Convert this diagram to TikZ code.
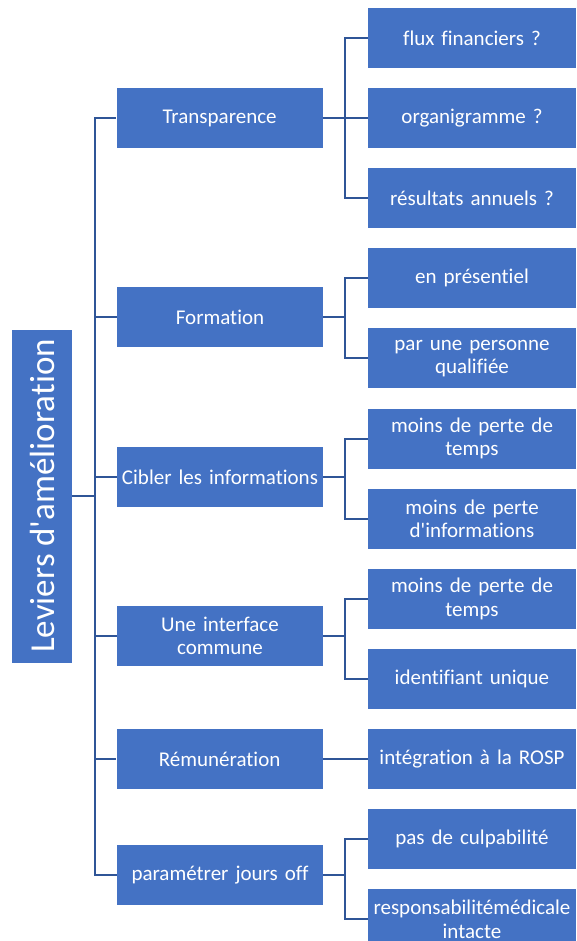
\documentclass[tikz,border=0pt]{standalone}
\usepackage{fontspec}
\setmainfont{Carlito}[Ligatures=NoCommon]
\usepackage{xcolor}
\usepackage{tikz}
\usetikzlibrary{calc}
\usetikzlibrary{positioning}

\definecolor{boxblue}{HTML}{4472C4}
\definecolor{lineblue}{HTML}{2F5597}

\begin{document}
\begin{tikzpicture}[x=1pt, y=1pt]

                \def\d{19.7pt}
                \def\g{45pt}

                % box looks, one style per level
                \tikzset{
                    lvbox/.style={fill=boxblue, text=white, inner sep=0pt,
                        minimum width=60pt, minimum height=333pt,
                        font=\fontsize{35}{40}\selectfont},
                    midbox/.style={fill=boxblue, text=white, inner sep=1pt,
                        minimum width=206pt, minimum height=60pt,
                        text width=204pt, align=center,
                        font=\fontsize{21}{23.5}\selectfont},
                    leafbox/.style={midbox, minimum width=208pt, text width=206pt},
                    fork/.style={draw=lineblue, line width=2pt}
                }

                \useasboundingbox (0,0) rectangle (577,-941);

                % Scope with the leaves, stacked from the top
                \begin{scope}
                    \node[leafbox] (flux) at (472,-38) {flux financiers ?};
                    \node[leafbox] (orga) [below=\d of flux] {organigramme ?};
                    \node[leafbox] (resu) [below=\d of orga] {résultats annuels ?};
                    \node[leafbox] (pres) [below=\d of resu] {en présentiel};
                    \node[leafbox] (qual) [below=\d of pres]
                    {par une personne\\qualifiée};
                    \node[leafbox] (temps1) [below=\d of qual]
                    {moins de perte de\\temps};
                    \node[leafbox] (info) [below=\d of temps1]
                    {moins de perte\\d\textquotesingle informations};
                    \node[leafbox] (temps2) [below=\d of info]
                    {moins de perte de\\temps};
                    \node[leafbox] (ident) [below=\d of temps2] {identifiant unique};
                    \node[leafbox] (rosp) [below=\d of ident] {intégration à la ROSP};
                    \node[leafbox] (culp) [below=\d of rosp] {pas de culpabilité};
                    \node[leafbox] (resp) [below=\d of culp]
                    {responsabilitémédicale\\intacte};
                \end{scope}

                \begin{scope}
                    \node[midbox] (trans) [left=\g of orga] {Transparence};
                    \node[midbox] (form) at (220,-317) {Formation};
                    \node[midbox] (cible) at (220,-477) {Cibler les informations};
                    \node[midbox] (inter) at (220,-636) {Une interface\\commune};
                    \node[midbox] (remu) [left=\g of rosp] {Rémunération};
                    \node[midbox] (param) at (220,-875) {paramétrer jours off};

                    \node[lvbox] (lev) at (42,-496)
                    {\rotatebox{90}{Leviers d\textquotesingle amélioration}};
                \end{scope}

                \begin{scope}[fork]
                    \draw (lev.east) -- ++(23,0) |- (trans.west);
                    \draw (lev.east) -- ++(23,0) |- (form.west);
                    \draw (lev.east) -- ++(23,0) |- (cible.west);
                    \draw (lev.east) -- ++(23,0) |- (inter.west);
                    \draw (lev.east) -- ++(23,0) |- (remu.west);
                    \draw (lev.east) -- ++(23,0) |- (param.west);

                    \draw (trans.east) -- ++(22,0) |- (flux.west);
                    \draw (trans.east) -- (orga.west);
                    \draw (trans.east) -- ++(22,0) |- (resu.west);
                    \draw (form.east) -- ++(22,0) |- (pres.west);
                    \draw (form.east) -- ++(22,0) |- (qual.west);
                    \draw (cible.east) -- ++(22,0) |- (temps1.west);
                    \draw (cible.east) -- ++(22,0) |- (info.west);
                    \draw (inter.east) -- ++(22,0) |- (temps2.west);
                    \draw (inter.east) -- ++(22,0) |- (ident.west);
                    \draw (remu.east) -- (rosp.west);
                    \draw (param.east) -- ++(22,0) |- (culp.west);
                    \draw (param.east) -- ++(22,0) |- (resp.west);
                \end{scope}

\end{tikzpicture}
\end{document}
